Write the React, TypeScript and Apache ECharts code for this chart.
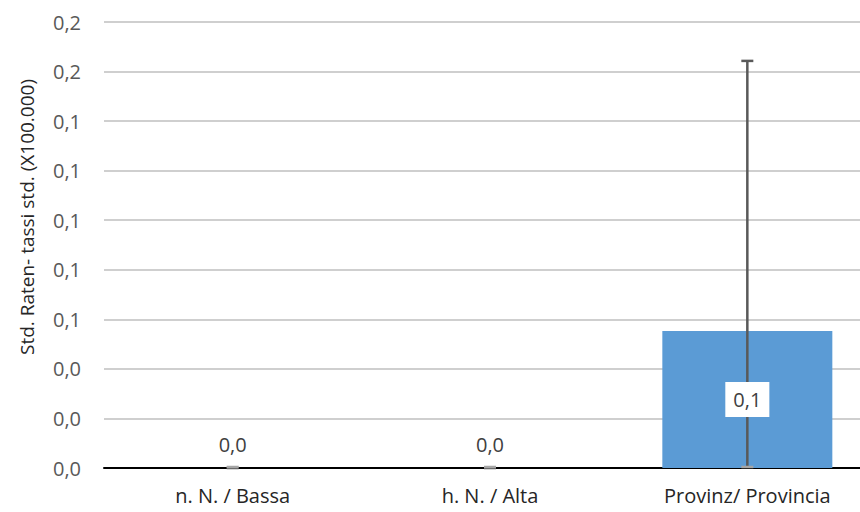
import React, { useEffect, useRef } from "react";
import * as echarts from "echarts";

const categories = ["n. N. / Bassa", "h. N. / Alta", "Provinz/ Provincia"];
const values = [0, 0, 0.0553];
const errLow = [0, 0, 0];
const errHigh = [0, 0, 0.1643];
const yTitle = "Std. Raten- tassi std. (X100.000)";

const fmt = (v: number) => v.toFixed(1).replace(".", ",");
const FONT = "Open Sans";

export default function App() {
  const ref = useRef<HTMLDivElement>(null);
  useEffect(() => {
    if (!ref.current) return;
    const chart = echarts.init(ref.current, undefined, { renderer: "svg" });
    const labelData = values.map((v, i) =>
      i === 2
        ? {
            value: v,
            label: {
              show: true,
              position: "inside",
              distance: 0,
              backgroundColor: "#ffffff",
              padding: [8, 8, 7, 8],
              color: "#404040",
              fontSize: 20,
              fontFamily: FONT,
              formatter: (p: any) => fmt(p.value),
            },
          }
        : v
    );
    chart.setOption({
      animation: false,
      grid: { left: 104, top: 22, width: 772, height: 446 },
      graphic: [
        {
          type: "text",
          x: 27,
          y: 217,
          rotation: Math.PI / 2,
          style: {
            text: yTitle,
            fontSize: 19,
            fontFamily: FONT,
            fill: "#262626",
            align: "center",
            verticalAlign: "middle",
          },
        },
      ],
      xAxis: {
        type: "category",
        data: categories,
        axisLine: { lineStyle: { color: "#000000", width: 2 } },
        axisTick: { show: false },
        axisLabel: { color: "#262626", fontSize: 20, fontFamily: FONT, margin: 17 },
      },
      yAxis: {
        type: "value",
        min: 0,
        max: 0.18,
        interval: 0.02,
        axisLine: { show: false },
        axisTick: { show: false },
        splitLine: { lineStyle: { color: "#bfbfbf", width: 1.5 } },
        axisLabel: {
          color: "#595959",
          fontSize: 20,
          fontFamily: FONT,
          margin: 23,
          formatter: (v: number) => fmt(v),
        },
      },
      series: [
        {
          type: "bar",
          data: values,
          barWidth: 170,
          z: 2,
          itemStyle: { color: "#5b9bd5" },
          label: { show: false },
        },
        {
          type: "custom",
          data: categories.map((_, i) => [i, errLow[i], errHigh[i]]),
          z: 5,
          renderItem: (params: any, api: any) => {
            const x = api.value(0);
            const lo = api.coord([x, api.value(1)]);
            const hi = api.coord([x, api.value(2)]);
            const half = 6;
            const style = { stroke: "#595959", lineWidth: 2.5, fill: "none" };
            return {
              type: "group",
              children: [
                { type: "line", shape: { x1: hi[0], y1: hi[1], x2: lo[0], y2: lo[1] }, style },
                { type: "line", shape: { x1: hi[0] - half, y1: hi[1], x2: hi[0] + half, y2: hi[1] }, style },
                { type: "line", shape: { x1: lo[0] - half, y1: lo[1] - 1, x2: lo[0] + half, y2: lo[1] - 1 }, style: { ...style, stroke: "#a6a6a6" } },
              ],
            };
          },
        },
        {
          type: "bar",
          data: labelData,
          barWidth: 170,
          barGap: "-100%",
          z: 10,
          silent: true,
          itemStyle: { color: "rgba(0,0,0,0)" },
          label: {
            show: true,
            position: "top",
            distance: 14,
            color: "#404040",
            fontSize: 20,
            fontFamily: FONT,
            formatter: (p: any) => fmt(p.value),
          },
        },
      ],
    });
    return () => chart.dispose();
  }, []);
  return (
    <div style={{ width: 860, height: 512, position: "absolute", left: 0, top: 0, overflow: "hidden" }}>
      <div ref={ref} style={{ width: 876, height: 512 }} />
    </div>
  );
}
